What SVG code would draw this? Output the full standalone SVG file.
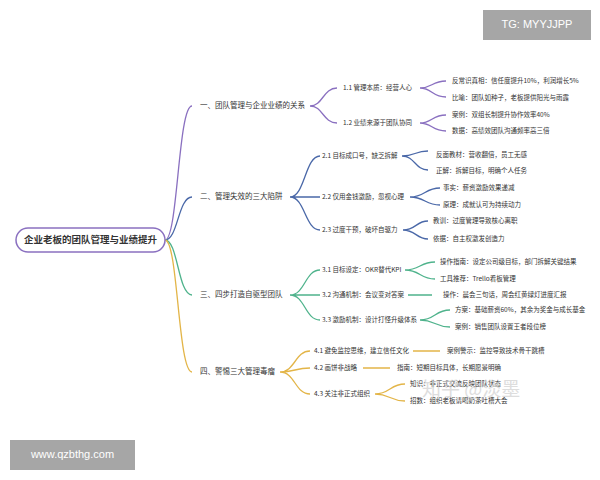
<svg xmlns="http://www.w3.org/2000/svg" width="600" height="480" viewBox="0 0 600 480">
<style>
text{font-family:"Noto Sans CJK SC","Liberation Sans",sans-serif;fill:#333;dominant-baseline:middle}
.l1{font-size:7.5px}.l2{font-size:6.5px}.lf{font-size:6.5px}
path{fill:none;stroke-width:1.3}
.p{stroke:#8a70c0}.b{stroke:#4a68a8}.g{stroke:#4fb38c}.y{stroke:#e3b548}
</style>
<rect width="600" height="480" fill="#fff"/>
<g id="connectors">
<path class="p" d="M165 240 C178 240 178 106 192 106"/>
<path class="b" d="M165 240 C178 240 178 197 192 197"/>
<path class="g" d="M165 240 C178 240 178 295 192 295"/>
<path class="y" d="M165 240 C178 240 178 372 192 372"/>
<path class="p" d="M310 106 C323 106 323 88 337 88 M310 106 C323 106 323 123 337 123"/>
<path class="p" d="M420 88 C432 88 432 81 446 81 M420 88 C432 88 432 97 446 97 M420 123 C432 123 432 115 446 115 M420 123 C432 123 432 131 446 131"/>
<path class="b" d="M290 197 C305 197 305 156 320 156 M290 197 L320 197 M290 197 C305 197 305 230 320 230"/>
<path class="b" d="M402 156 C415 156 415 151 428 151 M402 156 C415 156 415 170 428 170 M410 197 C425 197 425 188 440 188 M410 197 C425 197 425 205 440 205 M403 230 C416 230 416 221 428 221 M403 230 C416 230 416 239 428 239"/>
<path class="g" d="M290 295 C305 295 305 270 320 270 M290 295 L320 295 M290 295 C305 295 305 320 320 320"/>
<path class="g" d="M405 270 C420 270 420 262 435 262 M405 270 C420 270 420 279 435 279 M408 295 L432 295 M420 320 C435 320 435 310 450 310 M420 320 C435 320 435 327 450 327"/>
<path class="y" d="M280 372 C295 372 295 351 310 351 M280 372 C295 372 295 368 310 368 M280 372 C295 372 295 394 310 394"/>
<path class="y" d="M413 351 L440 351 M363 368 L390 368 M375 394 C390 394 390 384 405 384 M375 394 C390 394 390 401 405 401"/>
</g>
<g id="root"><rect x="16" y="228" width="149" height="24" rx="12" fill="#fff" stroke="#8a70c0" stroke-width="1.5"/><text x="90.5" y="240.5" text-anchor="middle" font-size="9.5" font-weight="bold">企业老板的团队管理与业绩提升</text></g>
<g id="b1"><text class="l1" x="200" y="106">一、团队管理与企业业绩的关系</text>
<text class="l2" x="343" y="88">1.1 管理本质：经营人心</text><text class="l2" x="343" y="123">1.2 业绩来源于团队协同</text>
<text class="lf" x="452" y="81">反常识真相：信任度提升10%，利润增长5%</text><text class="lf" x="452" y="98">比喻：团队如种子，老板提供阳光与雨露</text>
<text class="lf" x="452" y="115">案例：双组长制提升协作效率40%</text><text class="lf" x="452" y="131">数据：高绩效团队沟通频率高三倍</text></g>
<g id="b2"><text class="l1" x="200" y="197">二、管理失效的三大陷阱</text>
<text class="l2" x="322" y="156">2.1 目标成口号，缺乏拆解</text><text class="l2" x="322" y="197">2.2 仅用金钱激励，忽视心理</text><text class="l2" x="322" y="230">2.3 过度干预，破坏自驱力</text>
<text class="lf" x="436" y="155">反面教材：营收翻倍，员工无感</text><text class="lf" x="436" y="171">正解：拆解目标，明确个人任务</text>
<text class="lf" x="443" y="188">事实：薪资激励效果递减</text><text class="lf" x="443" y="205">原理：成就认可为持续动力</text>
<text class="lf" x="433" y="221">教训：过度管理导致核心离职</text><text class="lf" x="433" y="239">依据：自主权激发创造力</text></g>
<g id="b3"><text class="l1" x="200" y="295">三、四步打造自驱型团队</text>
<text class="l2" x="322" y="270">3.1 目标设定：OKR替代KPI</text><text class="l2" x="322" y="295">3.2 沟通机制：会议变对答案</text><text class="l2" x="322" y="320">3.3 激励机制：设计打怪升级体系</text>
<text class="lf" x="440" y="262">操作指南：设定公司级目标，部门拆解关键结果</text><text class="lf" x="440" y="279">工具推荐：Trello看板管理</text>
<text class="lf" x="443" y="295">操作：晨会三句话，周会红黄绿灯进度汇报</text>
<text class="lf" x="455" y="310">方案：基础薪资60%，其余为奖金与成长基金</text><text class="lf" x="455" y="327">案例：销售团队设置王者段位榜</text></g>
<g id="b4"><text class="l1" x="200" y="372">四、警惕三大管理毒瘤</text>
<text class="l2" x="314" y="351">4.1 避免监控思维，建立信任文化</text><text class="l2" x="314" y="368">4.2 画饼非战略</text><text class="l2" x="314" y="394">4.3 关注非正式组织</text>
<text class="lf" x="447" y="351">案例警示：监控导致技术骨干跳槽</text><text class="lf" x="397" y="368">指南：短期目标具体，长期愿景明确</text>
<text class="lf" x="410" y="384">知识：非正式交流反映团队状态</text><text class="lf" x="410" y="401">招数：组织老板请喝奶茶吐槽大会</text></g>
<text x="422" y="391" font-size="19" style="fill:#d0d0d0" opacity="0.7">知乎 @淡墨</text>
<rect x="483" y="10" width="108" height="30" fill="#a6a6a6"/><text x="537" y="25.5" text-anchor="middle" font-size="11" style="fill:#fff;font-family:'Liberation Sans',sans-serif">TG: MYYJJPP</text>
<rect x="10" y="440" width="125" height="30" fill="#a6a6a6"/><text x="72.5" y="455.5" text-anchor="middle" font-size="11" style="fill:#fff;font-family:'Liberation Sans',sans-serif">www.qzbthg.com</text>
</svg>
